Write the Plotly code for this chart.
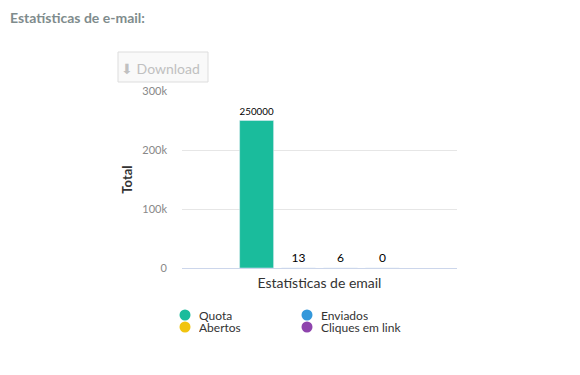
import plotly.graph_objects as go

category = ["Estatísticas de email"]
series_names = ["Quota", "Enviados", "Abertos", "Cliques em link"]
series_values = [250000, 13, 6, 0]
series_colors = ["#1abc9c", "#3498db", "#f1c40f", "#8e44ad"]
y_tickvals = [0, 100000, 200000, 300000]
y_ticktext = ["0", "100k", "200k", "300k"]

# plot-area geometry (pixels)
L, T, W, H = 182, 91, 275, 177
FW, FH = 580, 375


def px(x):
    return (x - L) / W


def py(y):
    return (T + H - y) / H


fig = go.Figure()
for name, val, col in zip(series_names, series_values, series_colors):
    fig.add_trace(go.Bar(
        x=category, y=[val], name=name, marker_color=col,
        text=[str(val)], textposition="outside", cliponaxis=False,
        textfont=dict(color="#000000", size=12, family="Lato"),
        showlegend=False, hoverinfo="name+y"))

fig.update_layout(
    width=FW, height=FH,
    margin=dict(l=L, r=FW - L - W, t=T, b=FH - T - H),
    paper_bgcolor="white", plot_bgcolor="white",
    font=dict(family="Lato", size=11, color="#666666"),
    barmode="group", bargap=0.39, bargroupgap=0.19,
    showlegend=False,
    xaxis=dict(showgrid=False, showline=True, linecolor="#ccd6eb", linewidth=1,
               showticklabels=False, ticks="",
               title=dict(text="Estatísticas de email", standoff=10,
                          font=dict(family="Lato", size=14, color="#333333"))),
    yaxis=dict(range=[0, 300000], tickvals=y_tickvals, ticktext=y_ticktext,
               showgrid=True, gridcolor="#e6e6e6", zeroline=False,
               tickfont=dict(family="Lato", size=11, color="#888888"),
               ticklabelstandoff=14,
               title=dict(text="<b>Total</b>", standoff=6,
                          font=dict(family="Lato", size=13, color="#333333"))),
)

# page title
fig.add_annotation(text="<b>Estatísticas de e-mail:</b>", xref="paper", yref="paper",
                   x=px(8), y=py(18), xanchor="left", yanchor="middle",
                   showarrow=False, font=dict(family="Lato", size=14, color="#7f8c8d"))

# download button
fig.add_shape(type="rect", xref="paper", yref="paper",
              x0=px(118), x1=px(208), y0=py(82), y1=py(52),
              line=dict(color="#dddddd", width=1), fillcolor="#f9f9f9")
fig.add_annotation(text="⬇ Download", xref="paper", yref="paper",
                   x=px(160), y=py(68), xanchor="center", yanchor="middle",
                   showarrow=False, font=dict(family="Lato", size=14, color="#c0c0c0"))

# custom legend: two columns, tight rows
col_x = [185, 307]
row_y = [315, 327]
r = 5.5
for i, (name, colr) in enumerate(zip(series_names, series_colors)):
    cx = col_x[i % 2]
    cy = row_y[i // 2]
    fig.add_shape(type="circle", xref="paper", yref="paper",
                  x0=px(cx - r), x1=px(cx + r), y0=py(cy + r), y1=py(cy - r),
                  line=dict(width=0), fillcolor=colr)
    fig.add_annotation(text=name, xref="paper", yref="paper",
                       x=px(cx + 12), y=py(cy), xanchor="left", yanchor="middle",
                       showarrow=False, height=13,
                       font=dict(family="Lato", size=12, color="#333333"))

fig.write_html("out.html", config={"displayModeBar": False},
               post_script="document.body.style.margin='0px';")
